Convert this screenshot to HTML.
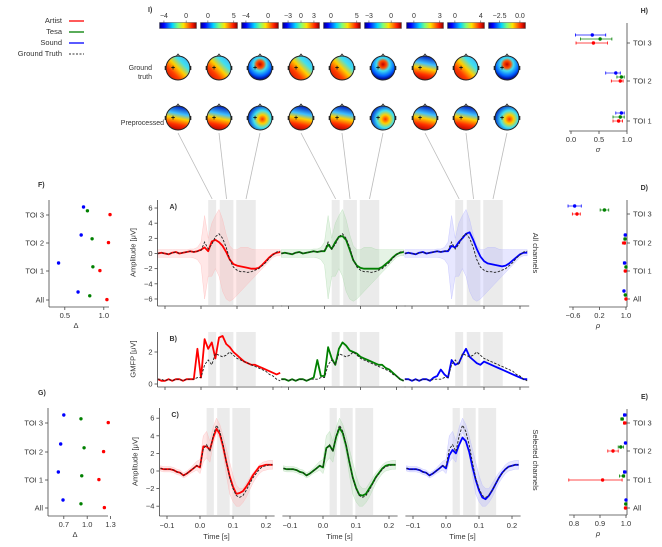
<!DOCTYPE html>
<html><head><meta charset="utf-8">
<style>
body{margin:0;background:#fff;}
svg{display:block;font-family:"Liberation Sans","DejaVu Sans",sans-serif;}
text{fill:#333;}
</style></head>
<body>
<svg id="fig" width="662" height="547" viewBox="0 0 662 547" xmlns="http://www.w3.org/2000/svg">
<defs>
<linearGradient id="jet" x1="0" x2="1" y1="0" y2="0">
<stop offset="0" stop-color="#00007f"/><stop offset="0.12" stop-color="#0000ff"/><stop offset="0.35" stop-color="#00d4ff"/><stop offset="0.5" stop-color="#7dff7a"/><stop offset="0.65" stop-color="#ffe500"/><stop offset="0.88" stop-color="#ff1a00"/><stop offset="1" stop-color="#7f0000"/>
</linearGradient>
<linearGradient id="hA" x1="1" y1="0" x2="0" y2="1">
<stop offset="0" stop-color="#3fa0ff"/><stop offset="0.3" stop-color="#40e0f0"/><stop offset="0.5" stop-color="#ffd000"/><stop offset="0.7" stop-color="#ff4000"/><stop offset="1" stop-color="#c00000"/>
</linearGradient>
<radialGradient id="hB" cx="0.5" cy="0.35" r="0.6">
<stop offset="0" stop-color="#c00000"/><stop offset="0.25" stop-color="#ff5000"/><stop offset="0.45" stop-color="#40e0f0"/><stop offset="0.8" stop-color="#0060ff"/><stop offset="1" stop-color="#0010a0"/>
</radialGradient>
<linearGradient id="hC" x1="0.5" y1="0" x2="0.3" y2="1">
<stop offset="0" stop-color="#0020c0"/><stop offset="0.3" stop-color="#40c0ff"/><stop offset="0.5" stop-color="#ffd000"/><stop offset="0.75" stop-color="#ff3000"/><stop offset="1" stop-color="#b00000"/>
</linearGradient>
<radialGradient id="hD" cx="0.6" cy="0.55" r="0.6">
<stop offset="0" stop-color="#ff3000"/><stop offset="0.3" stop-color="#ffd000"/><stop offset="0.6" stop-color="#40e0f0"/><stop offset="1" stop-color="#0030d0"/>
</radialGradient>
</defs>
<g id="root"></g>
</svg>
<script>
// ---------- data ----------
const times = [-0.12,-0.11,-0.10,-0.09,-0.08,-0.07,-0.06,-0.05,-0.04,-0.03,-0.02,-0.01,0.00,0.01,0.02,0.03,0.04,0.05,0.06,0.07,0.08,0.09,0.10,0.11,0.12,0.13,0.14,0.15,0.16,0.17,0.18,0.19,0.20,0.21,0.22];
const tois = [[0.02,0.042],[0.052,0.09],[0.098,0.152]];
const methods = ["Artist","Tesa","Sound"];
const colors = ["#ff0000","#008000","#0000ff"];
const bandColors = ["#ffb0b0","#a8d8a8","#b0b0ff"];
const preA = [0,0.1,0,-0.1,0.1,0.2,0,0.1,0.2,0.3,0.2,0.3];
const gtA = preA.concat([0.4,1.5,0.6,1.2,2.2,2.6,2.0,0.8,-0.8,-1.8,-2.2,-2.4,-2.4,-2.5,-2.4,-2.2,-2.0,-1.6,-1.2,-0.6,-0.2,0.2,0.3]);
const artistA = preA.concat([0.5,0.8,0.3,1.6,1.8,1.5,1.0,0.2,-0.8,-1.4,-1.6,-1.7,-1.8,-1.9,-2.0,-2.0,-1.9,-1.5,-1.0,-0.5,-0.1,0.1,0.2]);
const tesaA = preA.concat([0.3,1.2,0.6,1.5,2.2,2.3,1.8,0.5,-0.9,-1.6,-1.9,-2.0,-2.0,-2.0,-2.0,-2.0,-1.8,-1.4,-1.0,-0.5,-0.1,0.1,0.2]);
const soundA = preA.concat([0.3,1.0,0.8,1.5,2.0,2.6,2.8,1.8,0.6,-0.4,-1.0,-1.3,-1.4,-1.5,-1.6,-1.7,-1.6,-1.3,-0.9,-0.5,-0.1,0.1,0.1]);
const upperA = [0.5,0.5,0.5,0.5,0.5,0.5,0.5,0.5,0.5,0.6,0.6,0.8,1.5,5.0,2.0,4.0,5.0,5.8,4.5,2.5,1.0,0.5,0.5,0.8,0.8,0.8,0.6,0.5,0.5,0.5,0.5,0.5,0.5,0.5,0.5];
const lowerA = [-0.5,-0.5,-0.5,-0.5,-0.5,-0.5,-0.5,-0.5,-0.5,-0.5,-0.6,-0.8,-1.5,-6.0,-3.0,-3.0,-2.0,-3.0,-5.0,-6.0,-6.3,-6.0,-5.5,-5.0,-4.5,-4.0,-3.5,-3.0,-2.5,-2.0,-1.5,-1.0,-0.5,-0.3,-0.3];
const preB = [0.3,0.3,0.2,0.3,0.2,0.3,0.3,0.2,0.3,0.3,0.3,0.4];
const gtB = preB.concat([0.4,1.2,1.5,1.2,1.9,1.8,1.7,1.8,2.0,1.8,1.6,1.5,1.4,1.3,1.2,1.1,1.0,0.9,0.8,0.6,0.5,0.3,0.2]);
const artistB = [0.3,0.2,0.2,0.3,0.2,0.3,0.3,0.2,0.3,0.3,0.3,2.2].concat([0.4,2.8,2.2,2.6,1.6,2.9,3.0,2.5,2.3,2.0,1.8,1.6,1.4,1.3,1.2,1.2,1.1,1.0,0.9,0.8,0.7,0.6,0.7]);
const tesaB = [0.3,0.3,0.2,0.3,0.2,0.3,0.3,0.2,0.3,0.4,1.5,0.5].concat([0.5,2.3,1.6,1.2,2.2,2.6,2.4,2.1,2.0,1.9,1.7,1.6,1.5,1.4,1.3,1.2,1.2,1.0,0.9,0.7,0.5,0.3,0.2]);
const soundB = [0.3,0.3,0.2,0.3,0.2,0.3,0.3,0.2,0.4,0.5,0.9,0.6].concat([0.4,1.5,1.2,1.3,1.8,2.2,1.7,1.5,1.3,1.2,1.4,1.3,1.2,1.1,1.0,0.9,0.8,0.7,0.6,0.5,0.4,0.3,0.3]);
const preC = [0.3,0.2,0.2,0.2,0.1,-0.1,-0.2,-0.5,-0.3,0,0.3,0.6];
const gtC = preC.concat([0.5,2.5,3.0,2.2,4.0,5.2,4.5,3.0,1.0,-0.8,-2.0,-2.8,-3.0,-2.8,-2.2,-1.5,-0.8,-0.3,0.2,0.5,0.6,0.7,0.7]);
const artistC = preC.concat([0.4,2.8,2.8,2.4,3.8,4.8,4.2,2.8,1.0,-0.6,-1.8,-2.6,-2.5,-2.3,-1.8,-1.2,-0.5,0,0.5,0.6,0.7,0.7,0.7]);
const tesaC = preC.concat([0.4,2.6,2.9,2.3,3.9,4.9,4.3,2.9,1.0,-0.7,-1.9,-2.7,-2.8,-2.6,-2.0,-1.4,-0.7,-0.2,0.3,0.6,0.7,0.7,0.7]);
const soundC = preC.concat([0.3,1.8,2.4,2.0,3.0,3.8,3.4,2.2,0.5,-1.0,-2.2,-3.0,-3.2,-2.8,-2.2,-1.5,-0.8,-0.2,0.2,0.5,0.6,0.7,0.7]);
const spreadC = [0.3,0.3,0.3,0.3,0.3,0.3,0.3,0.3,0.3,0.3,0.4,0.5,0.8,1.5,1.5,1.2,1.0,0.8,0.8,1.0,1.5,1.8,1.5,1.2,1.0,0.8,0.8,0.7,0.6,0.5,0.5,0.5,0.5,0.5,0.5];
const toiLabels = ["All","TOI 1","TOI 2","TOI 3"];
const deltaF = [[0.67,0.82,1.04],[0.42,0.86,0.95],[0.71,0.85,1.06],[0.74,0.79,1.08]];
const deltaG = [[0.69,0.92,1.22],[0.63,0.93,1.15],[0.66,0.96,1.21],[0.70,0.92,1.27]];
const sigmaH = [[[0.9,0.8,0.95],[0.88,0.75,0.95],[0.85,0.75,0.92]],[[0.8,0.62,0.88],[0.9,0.82,0.95],[0.88,0.72,0.93]],[[0.38,0.08,0.62],[0.52,0.17,0.73],[0.4,0.09,0.65]]];
const rhoD = [[[0.94,0.92,0.96],[0.98,0.97,0.99],[1.0,0.99,1.0]],[[0.96,0.92,0.99],[1.0,0.98,1.0],[0.98,0.95,1.0]],[[0.98,0.95,1.0],[0.97,0.94,0.99],[0.95,0.89,0.99]],[[-0.55,-0.75,-0.35],[0.35,0.22,0.48],[-0.48,-0.62,-0.38]]];
const rhoE = [[[1.0,0.998,1.0],[0.999,0.997,1.0],[0.998,0.995,1.0]],[[0.995,0.99,1.0],[0.99,0.975,0.995],[0.91,0.78,0.985]],[[0.998,0.995,1.0],[0.98,0.97,0.99],[0.95,0.93,0.97]],[[0.995,0.99,1.0],[0.985,0.98,0.99],[0.995,0.99,1.0]]];
const cbTicks = [["−4","0"],["0","5"],["−4","0"],["−3","0","3"],["0","5"],["−3","0"],["0","3"],["0","4"],["−2.5","0.0"]];
const gtHeadType = ["hA","hA","hB","hA","hA","hB","hC","hA","hB"];
const ppHeadType = ["hC","hC","hD","hC","hC","hD","hC","hC","hD"];

// ---------- helpers ----------
const NS="http://www.w3.org/2000/svg";
const root=document.getElementById('root');
function el(tag,attrs,parent){const e=document.createElementNS(NS,tag);for(const k in attrs)e.setAttribute(k,attrs[k]);(parent||root).appendChild(e);return e;}
function txt(x,y,s,size,anchor,parent,extra){const t=el('text',Object.assign({x:x,y:y,'font-size':size||8,'text-anchor':anchor||'middle'},extra||{}),parent);t.textContent=s;return t;}

// ---------- legend ----------
const leg=el('g',{});


const legNames=["Artist","Tesa","Sound","Ground Truth"];
const legCols=["#ff0000","#008000","#0000ff","#333"];
for(let i=0;i<4;i++){
  const g=el('g',{},leg);
  
  
  txt(62,23+i*11,legNames[i],7.5,'end',g);
  el('line',{x1:69,x2:84,y1:21+i*11,y2:21+i*11,stroke:legCols[i],'stroke-width':i<3?1.3:1,'stroke-dasharray':i===3?'2,1.5':'none'},g);
}

// ---------- topomaps ----------
const headX=[178,219,260,301,342,383,425,466,507];
const topo=el('g',{});


txt(148,12,"I)",7,'start',topo,{'font-weight':'bold'});
txt(152,70,"Ground",7,'end',topo);txt(152,79,"truth",7,'end',topo);
txt(164,125,"Preprocessed",7,'end',topo);
for(let i=0;i<9;i++){
  const cx=headX[i];
  const cb=el('rect',{x:cx-18.5,y:22.5,width:37,height:6,fill:'url(#jet)',stroke:'#555','stroke-width':0.5},topo);
  
  
  const tk=cbTicks[i];
  const n=tk.length;
  for(let j=0;j<n;j++){
    let fx;
    if(n===2){fx = (i===1||i===4||i===6||i===7)? [0.2,0.9][j] : [0.12,0.72][j];}
    else fx=[0.15,0.5,0.85][j];
    if(i===8) fx=[0.3,0.85][j];
    const tx=cx-18.5+37*fx;
    el('line',{x1:tx,x2:tx,y1:20.5,y2:22.5,stroke:'#333','stroke-width':0.5},topo);
    txt(tx,18,tk[j],7,'middle',topo);
  }
  [[68,gtHeadType[i],'ground-truth'],[118,ppHeadType[i],'preprocessed']].forEach(([cy,gr,nm])=>{
    const hg=el('g',{},topo);
    
    
    el('path',{d:`M${cx-2},${cy-11.5} L${cx},${cy-14} L${cx+2},${cy-11.5}`,fill:'none',stroke:'#222','stroke-width':0.8},hg);
    el('rect',{x:cx-13.3,y:cy-2,width:1.5,height:4,fill:'#222'},hg);
    el('rect',{x:cx+11.8,y:cy-2,width:1.5,height:4,fill:'#222'},hg);
    el('circle',{cx:cx,cy:cy,r:12,fill:'url(#'+gr+')',stroke:'#222','stroke-width':1},hg);
    txt(cx-5,cy+2,"+",7,'middle',hg,{'font-weight':'bold',style:'fill:#111'});
  });
}

// ---------- time series panels ----------
const tsA={zeros:[201,324.5,448],scale:360,tmin:-0.118,tmax:0.22};
const tsC={zeros:[200,323,446],scale:330,tmin:-0.12,tmax:0.22};
const rowA={top:200,bot:305,y0:253.5,k:7.58,ticks:[6,4,2,0,-2,-4,-6],label:"Amplitude [μV]",tag:"A)",name:'all-channels-amplitude',op:0.3};
const rowB={top:332,bot:386,y0:384,k:16,ticks:[2,0],label:"GMFP [μV]",tag:"B)",name:'gmfp',op:0};
const rowC={top:408,bot:515,y0:471,k:8.8,ticks:[6,4,2,0,-2,-4],label:"Amplitude [μV]",tag:"C)",name:'selected-channels-amplitude',op:0.3};
const seriesA=[artistA,tesaA,soundA], seriesB=[artistB,tesaB,soundB], seriesC=[artistC,tesaC,soundC];

function drawRow(row,ts,series,gt,bandU,bandL,showTime){
  for(let p=0;p<3;p++){
    const g=el('g',{});
    
    
    const X=t=>ts.zeros[p]+t*ts.scale;
    const Y=v=>row.y0-v*row.k;
    tois.forEach((r,ri)=>{
      const sh=el('rect',{x:X(r[0]),y:row.top,width:X(r[1])-X(r[0]),height:row.bot-row.top,fill:'#ebebeb'},g);
      
      
    });
    if(bandU){
      let d='';
      times.forEach((t,i)=>{d+=(i?'L':'M')+X(t).toFixed(1)+','+Y(bandU[i]).toFixed(1);});
      for(let i=times.length-1;i>=0;i--){d+='L'+X(times[i]).toFixed(1)+','+Y(bandL[i]).toFixed(1);}
      const b=el('path',{d:d+'Z',fill:bandColors[p],'fill-opacity':row.op,stroke:bandColors[p],'stroke-opacity':0.6,'stroke-width':0.5},g);
      
      
    }
    const line=(arr)=>times.map((t,i)=>(i?'L':'M')+X(t).toFixed(1)+','+Y(arr[i]).toFixed(1)).join('');
    const ml=el('path',{d:line(series[p]),fill:'none',stroke:colors[p],'stroke-width':1.8,'stroke-linejoin':'round'},g);
    
    
    const gl=el('path',{d:line(gt),fill:'none',stroke:'#222','stroke-width':0.9,'stroke-dasharray':'2.5,1.5'},g);
    
    
    el('line',{x1:X(ts.tmin)-1,x2:X(ts.tmax)+2,y1:row.bot+1,y2:row.bot+1,stroke:'#444','stroke-width':0.8},g);
    [-0.1,0,0.1,0.2].forEach(t=>{
      el('line',{x1:X(t),x2:X(t),y1:row.bot+1,y2:row.bot+4,stroke:'#444','stroke-width':0.8},g);
      if(showTime) txt(X(t),row.bot+13,(t<0?'−':'')+Math.abs(t).toFixed(1),7.5,'middle',g);
    });
    if(showTime) txt(X(0.05),row.bot+24,"Time [s]",7.5,'middle',g);
    if(p===0){
      const ax=ts.zeros[0]+ts.tmin*ts.scale-1;
      el('line',{x1:ax,x2:ax,y1:row.top,y2:row.bot+1,stroke:'#444','stroke-width':0.8},g);
      row.ticks.forEach(v=>{
        el('line',{x1:ax-3,x2:ax,y1:Y(v),y2:Y(v),stroke:'#444','stroke-width':0.8},g);
        txt(ax-5,Y(v)+2.5,(v<0?'−':'')+Math.abs(v),7.5,'end',g);
      });
      txt(ax-22,(row.top+row.bot)/2,row.label,7.5,'middle',g,{transform:`rotate(-90 ${ax-22} ${(row.top+row.bot)/2})`});
      txt(ax+12,row.top+9,row.tag,7,'start',g,{'font-weight':'bold'});
    }
  }
}
drawRow(rowA,tsA,seriesA,gtA,upperA,lowerA,false);
drawRow(rowB,tsA,seriesB,gtB,null,null,false);
const upC=gtC.map((v,i)=>v+spreadC[i]), loC=gtC.map((v,i)=>v-spreadC[i]);
drawRow(rowC,tsC,seriesC,gtC,upC,loC,true);
txt(533,253,"All channels",7.5,'middle',root,{transform:'rotate(90 533 253)'});
txt(533,460,"Selected channels",7.5,'middle',root,{transform:'rotate(90 533 460)'});

const conn=el('g',{});


for(let i=0;i<9;i++){
  const p=Math.floor(i/3), r=tois[i%3];
  const tx=tsA.zeros[p]+(r[0]+r[1])/2*tsA.scale;
  el('line',{x1:headX[i],y1:133,x2:tx,y2:199,stroke:'#bbb','stroke-width':0.8},conn);
}

// ---------- scatter F/G ----------
function drawScatter(name,tag,top,bot,ys,ax,scale,v0,ticks,data){
  const g=el('g',{});
  
  
  const X=v=>ax+8+(v-v0)*scale;
  txt(38,top-13,tag,7,'start',g,{'font-weight':'bold'});
  el('line',{x1:ax,x2:ax,y1:top,y2:bot,stroke:'#444','stroke-width':0.8},g);
  el('line',{x1:ax,x2:ax+60,y1:bot,y2:bot,stroke:'#444','stroke-width':0.8},g);
  ys.forEach((y,i)=>{el('line',{x1:ax-3,x2:ax,y1:y,y2:y,stroke:'#444','stroke-width':0.8},g);txt(ax-5,y+2.5,toiLabels[i],7.5,'end',g);});
  ticks.forEach(v=>{el('line',{x1:X(v),x2:X(v),y1:bot,y2:bot+3,stroke:'#444','stroke-width':0.8},g);txt(X(v),bot+11,v.toFixed(1),7.5,'middle',g);});
  txt(ax+27,bot+21,"Δ",7.5,'middle',g);
  const order=[2,1,0];
  data.forEach((row,i)=>{row.forEach((v,m)=>{
    const c=el('circle',{cx:X(v),cy:ys[i]-8+m*3.8,r:1.7,fill:colors[order[m]]},g);
    
    
  });});
}
drawScatter('delta-all-channels','F)',200,307,[300,271,243,215],49,78,0.4,[0.5,1.0],deltaF);
drawScatter('delta-selected-channels','G)',408,516,[508,480,452,423],48,78,0.6,[0.7,1.0,1.3],deltaG);

// ---------- error bars H/D/E ----------
function drawErr(name,tag,top,bot,ys,labels,X,ticks,tickFmt,sym,data){
  const g=el('g',{});
  
  
  const ax=627;
  txt(648,top-10,tag,7,'end',g,{'font-weight':'bold'});
  el('line',{x1:ax,x2:ax,y1:top,y2:bot,stroke:'#444','stroke-width':0.8},g);
  el('line',{x1:569,x2:ax,y1:bot,y2:bot,stroke:'#444','stroke-width':0.8},g);
  ys.forEach((y,i)=>{el('line',{x1:ax,x2:ax+3,y1:y,y2:y,stroke:'#444','stroke-width':0.8},g);txt(ax+6,y+2.5,labels[i],7.5,'start',g);});
  ticks.forEach((v,i)=>{el('line',{x1:X(v),x2:X(v),y1:bot,y2:bot+3,stroke:'#444','stroke-width':0.8},g);txt(X(v),bot+11,tickFmt[i],7.5,'middle',g);});
  txt(598,bot+21,sym,7.5,'middle',g,{'font-style':'italic'});
  const order=[2,1,0];
  data.forEach((row,i)=>{row.forEach((d,m)=>{
    const y=ys[i]-8+m*4, c=colors[order[m]];
    const e=el('g',{},g);
    
    
    el('line',{x1:X(d[1]),x2:X(d[2]),y1:y,y2:y,stroke:c,'stroke-width':0.9,'stroke-opacity':0.7},e);
    el('line',{x1:X(d[1]),x2:X(d[1]),y1:y-1.5,y2:y+1.5,stroke:c,'stroke-width':0.8},e);
    el('line',{x1:X(d[2]),x2:X(d[2]),y1:y-1.5,y2:y+1.5,stroke:c,'stroke-width':0.8},e);
    el('circle',{cx:X(d[0]),cy:y,r:1.7,fill:c},e);
  });});
}
drawErr('sigma-panel','H)',23,131,[121,81,43],["TOI 1","TOI 2","TOI 3"],v=>571+v*56,[0,0.5,1],["0.0","0.5","1.0"],"σ",sigmaH);
drawErr('rho-all-channels','D)',200,307,[299,271,243,214],toiLabels,v=>573+(v+0.6)*33.1,[-0.6,0.2,1.0],["−0.6","0.2","1.0"],"ρ",rhoD);
drawErr('rho-selected-channels','E)',409,515,[508,480,451,423],toiLabels,v=>574+(v-0.8)*260,[0.8,0.9,1.0],["0.8","0.9","1.0"],"ρ",rhoE);
</script>
</body></html>
